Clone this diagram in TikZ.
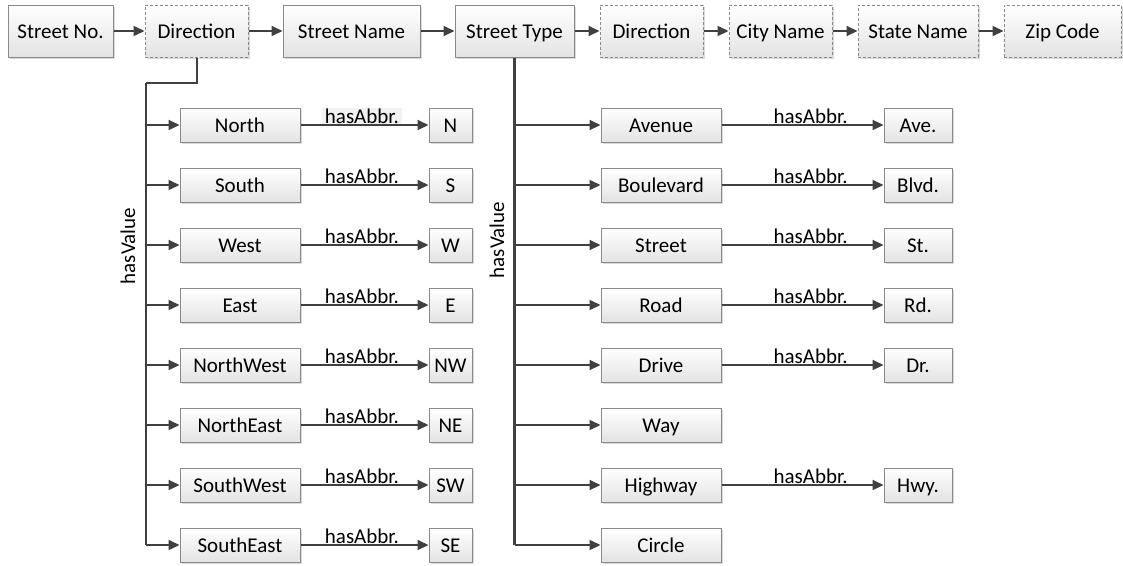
\documentclass[tikz,border=0pt]{standalone}
\usepackage{fontspec}
\setmainfont{Carlito}
\usetikzlibrary{arrows.meta,shadows}
\definecolor{linegray}{HTML}{404040}
\definecolor{boxedge}{HTML}{8A8A8A}
\tikzset{
  txt/.style={font=\fontsize{21}{25}\selectfont},
  box/.style={txt, draw=boxedge, line width=1pt, top color=white, bottom color=black!11,
    minimum height=52pt, inner sep=0pt, text height=15pt, text depth=1pt,
    drop shadow={shadow xshift=2pt, shadow yshift=-2pt, fill=black!15, opacity=1}},
  optbox/.style={box, dash pattern=on 3pt off 2pt},
  valbox/.style={box, minimum height=34pt},
  link/.style={draw=linegray, line width=2pt},
  conn/.style={link, -{Triangle[length=11pt,width=10pt]}},
  bus/.style={draw=linegray, line width=2.6pt},
  lbl/.style={txt, inner sep=0.5pt, anchor=south},
}
\begin{document}
\begin{tikzpicture}[x=1pt, y=-1pt]
\useasboundingbox (0,0) rectangle (1123,565);

% address components
\node[box, minimum width=105pt] (sno)   at (60.5,31)  {Street No.};
\node[optbox, minimum width=103pt] (dir1) at (196.5,31) {Direction};
\node[box, minimum width=137pt] (sname) at (351.5,31) {Street Name};
\node[box, minimum width=119pt] (stype) at (514.5,31) {Street Type};
\node[optbox, minimum width=103pt] (dir2) at (651.5,31) {Direction};
\node[optbox, minimum width=103pt] (city) at (780.5,31) {City Name};
\node[optbox, minimum width=120pt] (state) at (918,31)  {State Name};
\node[optbox, minimum width=117pt] (zip)  at (1062.5,31) {Zip Code};

\draw[conn] (sno) -- (dir1);
\draw[conn] (dir1) -- (sname);
\draw[conn] (sname) -- (stype);
\draw[conn] (stype) -- (dir2);
\draw[conn] (dir2) -- (city);
\draw[conn] (city) -- (state);
\draw[conn] (state) -- (zip);

% direction values
\coordinate (ltop) at (146,83);
\coordinate (lbot) at (146,545);
\draw[link] (dir1.south) |- (ltop);
\draw[bus] (ltop) -- (lbot);
\node[txt, rotate=90] (hvl) at (128,246) {hasValue};

\foreach \k/\t/\a/\y in {n/North/N/125, s/South/S/185, w/West/W/245, e/East/E/305,
    nw/NorthWest/NW/365, ne/NorthEast/NE/425, sw/SouthWest/SW/485, se/SouthEast/SE/545}{
  \node[valbox, minimum width=120pt] (d\k) at (240,\y) {\t};
  \node[valbox, minimum width=43pt] (da\k) at (450.5,\y) {\a};
  \coordinate (db\k) at (146,\y);
  \draw[conn] (db\k) -- (d\k);
}
\draw[conn] (dn) -- node[lbl, pos=0.48, fill=black!5, inner xsep=3pt] {hasAbbr.} (dan);
\foreach \k in {s,w,e,nw,ne,sw,se}{
  \draw[conn] (d\k) -- node[lbl, pos=0.48] {hasAbbr.} (da\k);
}

% street type values
\coordinate (rbot) at (514.5,545);
\draw[bus] (stype.south) -- (rbot);
\node[txt, rotate=90] (hvr) at (497,240) {hasValue};

\foreach \k/\t/\y in {av/Avenue/125, bl/Boulevard/185, st/Street/245, rd/Road/305,
    dr/Drive/365, wy/Way/425, hw/Highway/485, ci/Circle/545}{
  \node[valbox, minimum width=120pt] (t\k) at (661,\y) {\t};
  \coordinate (tb\k) at (514.5,\y);
  \draw[conn] (tb\k) -- (t\k);
}
\foreach \k/\a/\y in {av/Ave./125, bl/Blvd./185, st/St./245, rd/Rd./305,
    dr/Dr./365, hw/Hwy./485}{
  \node[valbox, minimum width=68pt] (ta\k) at (918,\y) {\a};
  \draw[conn] (t\k) -- node[lbl, pos=0.55] {hasAbbr.} (ta\k);
}
\end{tikzpicture}
\end{document}
